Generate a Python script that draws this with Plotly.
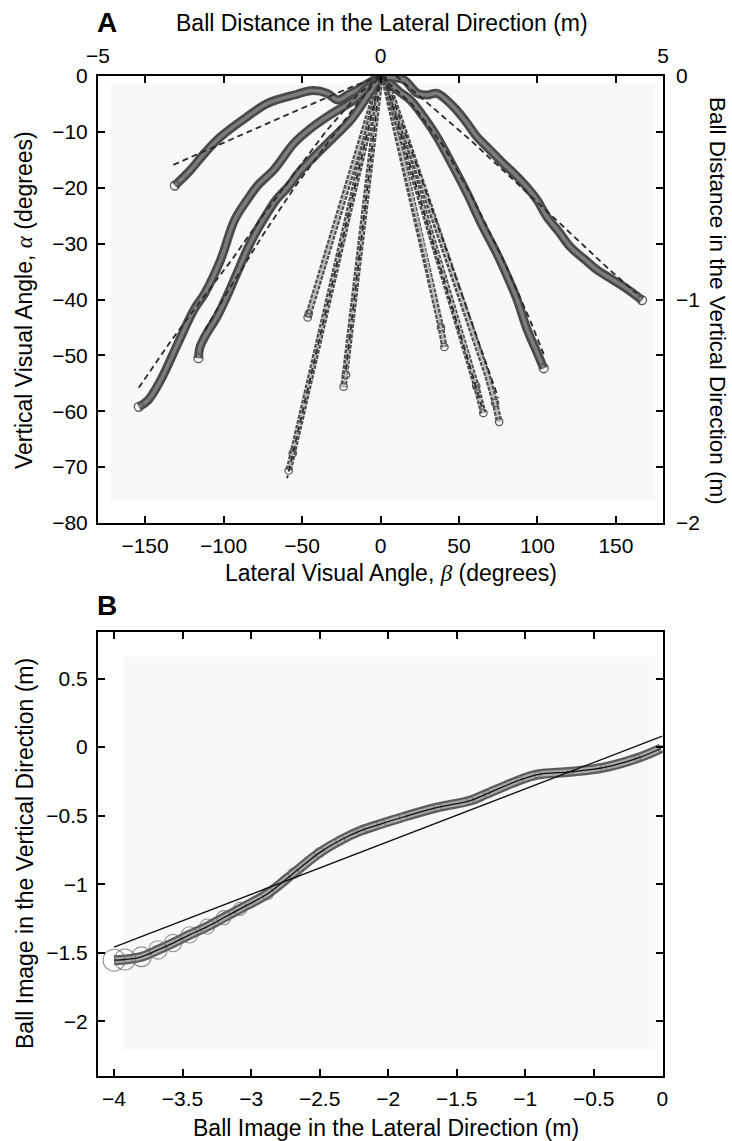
import plotly.graph_objects as go

# ---------------- Panel A data: (beta = lateral visual angle, alpha = vertical visual angle), degrees
t1_beta  = [0, -6, -13, -21, -27, -34, -43, -55, -72, -85, -102, -112, -121, -128, -131]
t1_alpha = [0, -1.0, -2.2, -3.4, -4.3, -3.1, -2.6, -3.4, -4.9, -7.3, -10.9, -13.8, -16.8, -18.8, -19.6]
d1_beta  = [-132, -108, -85, -60, -38, -18, 0]
d1_alpha = [-15.9, -13.0, -10.1, -7.0, -4.3, -1.9, 0]

t2_beta  = [0, -8, -17, -34, -45, -55, -68, -78, -85, -93, -102, -112, -119, -129, -140, -148, -154]
t2_alpha = [0, -2.0, -4.3, -7.3, -9.5, -12.0, -16.8, -19.5, -22.2, -25.8, -33.0, -38.9, -41.9, -47.8, -54.4, -58.0, -59.2]
d2_beta  = [-154, -135, -114, -95, -75, -55, -35, -15, 0]
d2_alpha = [-55.8, -48.0, -40.0, -33.0, -25.0, -17.5, -10.0, -3.5, 0]

t3_beta  = [0, -8, -19, -30, -42.6, -52, -59, -66, -72, -79, -85, -91, -97, -104, -112, -115, -116]
t3_alpha = [0, -3.5, -7.9, -11.0, -14.5, -17.3, -19.9, -22.0, -24.5, -27.8, -31.1, -35.0, -38.9, -43.0, -46.7, -48.5, -50.5]
d3_beta  = [-112, -95, -75, -55, -35, -15, 0]
d3_alpha = [-45.5, -37.5, -28.5, -20.0, -12.5, -5.0, 0]

t4_beta  = [0, -6.4, -12.9, -19.3, -25.8, -31.7, -37.1, -41.9, -44.0, -45.7, -46.4]
t4_alpha = [0, -6.0, -12.0, -18.0, -24.0, -29.5, -34.5, -39.0, -41.0, -42.5, -43.2]

t5_beta  = [0, -6.6, -13.3, -19.9, -26.5, -33.1, -39.8, -46.0, -51.4, -55.9, -58.5]
t5_alpha = [0, -8.0, -16.0, -24.0, -32.0, -40.0, -48.0, -55.5, -62.0, -67.5, -70.6]
d5_beta  = [0, -59.5]
d5_alpha = [0, -72.0]

t6_beta  = [0, -3.4, -6.8, -10.1, -13.5, -16.9, -20.2, -22.0, -23.5]
t6_alpha = [0, -8.0, -16.0, -24.0, -32.0, -40.0, -48.0, -53.5, -55.6]
d6_beta  = [0, -22.0]
d6_alpha = [0, -52.6]

t7_beta  = [2, 8.7, 15.4, 22.1, 28.8, 34.5, 38.5, 40.7]
t7_alpha = [0, -8.0, -16.0, -24.0, -32.0, -40.0, -45.0, -48.5]

t8_beta  = [2, 9.5, 17.0, 27.0, 37.0, 47.0, 55.0, 61.0, 65.5]
t8_alpha = [0, -7.0, -14.0, -23.3, -32.6, -42.0, -49.5, -55.5, -60.3]
d8_beta  = [2, 64.6]
d8_alpha = [0, -59.2]

t9_beta  = [3, 11.0, 20.0, 30.0, 40.0, 50.0, 60.0, 68.0, 73.0, 75.6]
t9_alpha = [0, -6.5, -14.0, -22.0, -30.0, -38.5, -47.0, -53.5, -58.5, -61.9]
d9_beta  = [3, 75.0]
d9_alpha = [0, -57.6]

t10_beta  = [0, 6, 12, 19, 28, 36, 45, 55, 64, 74, 81, 87, 93.5, 99, 104]
t10_alpha = [0, -1.3, -2.8, -4.3, -7.5, -10.9, -15.5, -20.9, -26.3, -31.7, -36.0, -40.0, -45.4, -49.0, -52.3]
d10_beta  = [0, 20, 40, 60, 80, 95, 105]
d10_alpha = [0, -5.0, -12.5, -22.5, -34.0, -43.5, -50.5]

t11_beta  = [0, 8, 15, 23.5, 30, 36, 46.5, 54, 61.5, 70, 78, 86, 93.3, 100, 106, 114, 121, 130, 138, 147, 155, 161, 166.6]
t11_alpha = [0, -0.3, -0.7, -3.1, -3.4, -3.1, -5.5, -8.0, -10.9, -13.3, -15.6, -17.7, -19.9, -22.3, -25.2, -28.0, -30.6, -32.8, -34.7, -36.3, -37.7, -38.9, -40.1]
d11_beta  = [10, 25.4, 57, 87, 121, 146, 163]
d11_alpha = [0, -3.7, -11.4, -19.2, -28.1, -34.7, -38.9]

a_bottom_ticks = [-150, -100, -50, 0, 50, 100, 150]
a_left_ticks = [0, -10, -20, -30, -40, -50, -60, -70, -80]
a_top_ticks = [-5, 0, 5]
a_right_ticks = [0, -1, -2]

# ---------------- Panel B data: ball image (m)
b_x = [-4.0, -3.92, -3.80, -3.68, -3.57, -3.45, -3.32, -3.20, -3.08, -2.88, -2.69, -2.50, -2.35, -2.20,
       -2.05, -1.89, -1.64, -1.40, -1.28, -1.04, -0.91, -0.67, -0.43, -0.18, -0.01]
b_y = [-1.555, -1.55, -1.53, -1.48, -1.43, -1.37, -1.31, -1.245, -1.18, -1.07, -0.92, -0.77, -0.68, -0.61,
       -0.56, -0.51, -0.44, -0.39, -0.34, -0.24, -0.20, -0.18, -0.15, -0.08, -0.01]
bfit_x = [-4.0, 0.0]
bfit_y = [-1.46, 0.08]
b_xticks = [-4, -3.5, -3, -2.5, -2, -1.5, -1, -0.5, 0]
b_yticks = [-2, -1.5, -1, -0.5, 0, 0.5]

FONT = "Liberation Sans, Arial, Helvetica, sans-serif"
W, H = 732, 1141


def fx(px):
    return px / W


def fy(py):
    return 1 - py / H


fig = go.Figure()


def dense_traj(bx, ay, xa="x", ya="y"):
    fig.add_trace(go.Scatter(x=bx, y=ay, mode="lines", line=dict(color="#4a4a4a", width=9, shape="spline"),
                             xaxis=xa, yaxis=ya, hoverinfo="skip"))
    fig.add_trace(go.Scatter(x=bx, y=ay, mode="lines", line=dict(color="#7d7d7d", width=3.5, shape="spline"),
                             xaxis=xa, yaxis=ya, hoverinfo="skip"))
    fig.add_trace(go.Scatter(x=bx[-1:], y=ay[-1:], mode="markers",
                             marker=dict(symbol="circle-open", size=9, color="#555", line=dict(width=1.3)),
                             xaxis=xa, yaxis=ya, hoverinfo="skip"))


def chain_traj(bx, ay):
    fig.add_trace(go.Scatter(x=bx, y=ay, mode="lines", line=dict(color="#4f4f4f", width=6.5, dash="4px,1.2px"),
                             hoverinfo="skip"))
    fig.add_trace(go.Scatter(x=bx, y=ay, mode="lines", line=dict(color="#b8b8b8", width=2.2),
                             hoverinfo="skip"))
    fig.add_trace(go.Scatter(x=bx[-2:], y=ay[-2:], mode="markers",
                             marker=dict(symbol="circle-open", size=7.5, color="#555", line=dict(width=1.2)),
                             hoverinfo="skip"))


def dashed(bx, ay):
    fig.add_trace(go.Scatter(x=bx, y=ay, mode="lines", line=dict(color="#2a2a2a", width=1.8, dash="6px,4px"),
                             hoverinfo="skip"))


for bx, ay in [(t4_beta, t4_alpha), (t5_beta, t5_alpha), (t6_beta, t6_alpha),
               (t7_beta, t7_alpha), (t8_beta, t8_alpha), (t9_beta, t9_alpha)]:
    chain_traj(bx, ay)
for bx, ay in [(t1_beta, t1_alpha), (t2_beta, t2_alpha), (t3_beta, t3_alpha),
               (t10_beta, t10_alpha), (t11_beta, t11_alpha)]:
    dense_traj(bx, ay)
for bx, ay in [(d1_beta, d1_alpha), (d2_beta, d2_alpha), (d3_beta, d3_alpha), (d5_beta, d5_alpha),
               (d6_beta, d6_alpha), (d8_beta, d8_alpha), (d9_beta, d9_alpha), (d10_beta, d10_alpha),
               (d11_beta, d11_alpha)]:
    dashed(bx, ay)

# invisible trace to activate the secondary axes
fig.add_trace(go.Scatter(x=[], y=[], xaxis="x2", yaxis="y2", showlegend=False))

# Panel B
b_sizes = [6 + 16 * (-v / 4) ** 3 for v in b_x]
fig.add_trace(go.Scatter(x=b_x, y=b_y, mode="lines", line=dict(color="#5c5c5c", width=10, shape="spline"),
                         xaxis="x3", yaxis="y3", hoverinfo="skip"))
fig.add_trace(go.Scatter(x=b_x, y=b_y, mode="lines", line=dict(color="#a8a8a8", width=5.5, shape="spline"),
                         xaxis="x3", yaxis="y3", hoverinfo="skip"))
fig.add_trace(go.Scatter(x=b_x, y=b_y, mode="markers",
                         marker=dict(symbol="circle-open", size=b_sizes, color="#6a6a6a", line=dict(width=1.1)),
                         xaxis="x3", yaxis="y3", hoverinfo="skip"))
fig.add_trace(go.Scatter(x=b_x, y=b_y, mode="lines", line=dict(color="#111", width=1.3, shape="spline"),
                         xaxis="x3", yaxis="y3", hoverinfo="skip"))
fig.add_trace(go.Scatter(x=bfit_x, y=bfit_y, mode="lines", line=dict(color="#111", width=1.3),
                         xaxis="x3", yaxis="y3", hoverinfo="skip"))

tickfont = dict(family=FONT, size=21, color="black")
axis_common = dict(showgrid=False, zeroline=False, showline=True, linecolor="black", linewidth=2,
                   ticks="inside", ticklen=7, tickwidth=1.5, tickcolor="black", tickfont=tickfont,
                   mirror="ticks", automargin=False)

A_dom_x = [fx(98), fx(663)]
A_dom_y = [fy(523), fy(76)]
B_dom_y = [fy(1076), fy(632)]


def fmt(v):
    s = ("%g" % v)
    return s.replace("-", "\u2212")


fig.update_layout(
    width=W, height=H, margin=dict(l=0, r=0, t=0, b=0, autoexpand=False),
    paper_bgcolor="white", plot_bgcolor="white", showlegend=False,
    xaxis=dict(axis_common, domain=A_dom_x, range=[-180, 180], anchor="y",
               tickvals=a_bottom_ticks, ticktext=[fmt(v) for v in a_bottom_ticks], ticklabelstandoff=3),
    yaxis=dict(axis_common, domain=A_dom_y, range=[-80, 0], anchor="x",
               tickvals=a_left_ticks, ticktext=[fmt(v) for v in a_left_ticks], ticklabelstandoff=4),
    xaxis2=dict(overlaying="x", side="top", range=[-5, 5], anchor="y", showgrid=False, zeroline=False,
                showline=False, ticks="", tickvals=a_top_ticks, ticktext=[fmt(v) for v in a_top_ticks],
                tickfont=tickfont, ticklabelstandoff=8, automargin=False),
    yaxis2=dict(overlaying="y", side="right", range=[-2, 0], anchor="x", showgrid=False, zeroline=False,
                showline=False, ticks="", tickvals=a_right_ticks, ticktext=[fmt(v) for v in a_right_ticks],
                tickfont=tickfont, ticklabelstandoff=12, automargin=False),
    xaxis3=dict(axis_common, domain=A_dom_x, range=[-4.117, 0.005], anchor="y3",
                tickvals=b_xticks, ticktext=[fmt(v) for v in b_xticks], ticklabelstandoff=3),
    yaxis3=dict(axis_common, domain=B_dom_y, range=[-2.40, 0.84], anchor="x3",
                tickvals=b_yticks, ticktext=[fmt(v) for v in b_yticks], ticklabelstandoff=4),
    shapes=[
        dict(type="rect", xref="x", yref="y", x0=-172, x1=175, y0=-76, y1=-1.5, layer="below",
             line=dict(width=0), fillcolor="#f8f8f8"),
        dict(type="rect", xref="x3", yref="y3", x0=-3.93, x1=-0.05, y0=-2.21, y1=0.66, layer="below",
             line=dict(width=0), fillcolor="#f8f8f8"),
    ],
)

title_font = dict(family=FONT, size=23, color="black")
alpha_html = "<i><span style='font-family:Liberation Serif, Times New Roman, serif'>\u03b1</span></i>"
beta_html = "<i><span style='font-family:Liberation Serif, Times New Roman, serif'>\u03b2</span></i>"
ann = [
    dict(text="<b>A</b>", x=fx(107), y=fy(22), font=dict(family=FONT, size=28, color="black")),
    dict(text="<b>B</b>", x=fx(107), y=fy(605), font=dict(family=FONT, size=28, color="black")),
    dict(text="Ball Distance in the Lateral Direction (m)", x=fx(382), y=fy(23), font=title_font),
    dict(text="Vertical Visual Angle, " + alpha_html + " (degrees)", x=fx(24), y=fy(300),
         textangle=-90, font=title_font),
    dict(text="Ball Distance in the Vertical Direction (m)", x=fx(718), y=fy(301), textangle=90,
         font=dict(family=FONT, size=22.5, color="black")),
    dict(text="Lateral Visual Angle, " + beta_html + " (degrees)", x=fx(391), y=fy(573), font=title_font),
    dict(text="Ball Image in the Vertical Direction (m)", x=fx(25), y=fy(854), textangle=-90,
         font=title_font),
    dict(text="Ball Image in the Lateral Direction (m)", x=fx(386), y=fy(1128), font=title_font),
]
for a in ann:
    a.update(xref="paper", yref="paper", showarrow=False, xanchor="center", yanchor="middle")
fig.update_layout(annotations=ann)

fig.write_html("out.html", config={"displayModeBar": False},
               post_script="document.body.style.margin='0px';document.body.style.overflow='hidden';")
